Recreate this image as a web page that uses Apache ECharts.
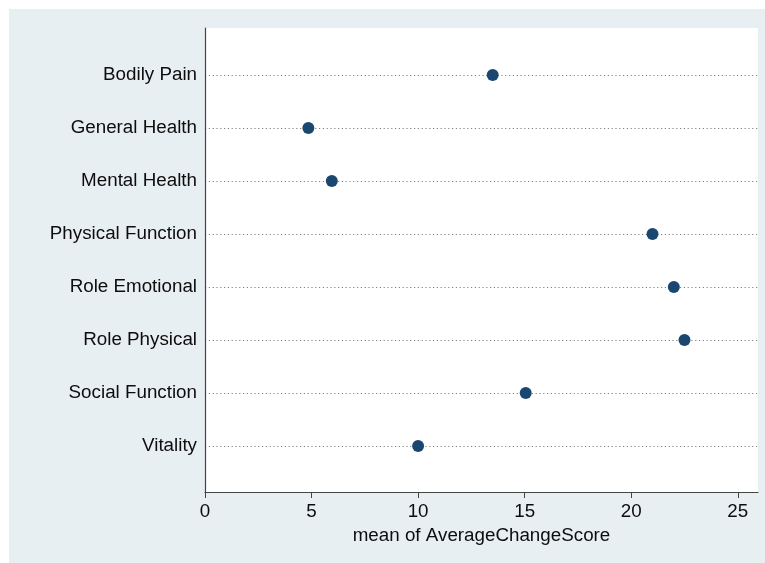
<!DOCTYPE html>
<html>
<head>
<meta charset="utf-8">
<script src="https://cdn.jsdelivr.net/npm/echarts@6/dist/echarts.min.js"></script>
<style>
  html, body { margin: 0; padding: 0; background: #ffffff; }
  #chart { position: absolute; left: 9px; top: 9px; width: 756px; height: 554px; }
</style>
</head>
<body>
<div id="chart"></div>
<script>
// Mean change score per SF-36 domain
const domains = ['Bodily Pain', 'General Health', 'Mental Health', 'Physical Function',
                 'Role Emotional', 'Role Physical', 'Social Function', 'Vitality'];
const meanScores = [13.5, 4.85, 5.95, 21.0, 22.0, 22.5, 15.05, 10.0];
const xTicks = [0, 5, 10, 15, 20, 25];

const fontFamily = '"Liberation Sans", Arial, Helvetica, sans-serif';
const textColor = '#0d0d0d';
const chart = echarts.init(document.getElementById('chart'));

chart.setOption({
  backgroundColor: '#e8eff2',
  animation: false,
  grid: [
    // plot region frame (white panel + axis lines)
    { left: 196, right: 7, top: 19, bottom: 71, show: true, backgroundColor: '#ffffff', borderWidth: 0 },
    // inner region holding the category rows
    { left: 196, right: 7, top: 66, bottom: 117 }
  ],
  xAxis: [
    {
      gridIndex: 0, type: 'value', min: 0, max: 25.95, interval: 5,
      name: 'mean of AverageChangeScore', nameLocation: 'middle', nameGap: 34,
      nameTextStyle: { fontFamily, fontSize: 18.8, color: textColor },
      axisLine: { show: true, lineStyle: { color: '#444', width: 1.2 } },
      axisTick: { show: true, length: 6, customValues: xTicks, lineStyle: { color: '#444' } },
      axisLabel: {
        fontFamily, fontSize: 18.8, color: textColor, margin: 10,
        customValues: xTicks
      },
      splitLine: { show: false }
    },
    {
      gridIndex: 1, type: 'value', min: 0, max: 25.95, show: false
    }
  ],
  yAxis: [
    {
      gridIndex: 0, type: 'value', min: 0, max: 1,
      axisLine: { show: true, lineStyle: { color: '#444', width: 1.2 } },
      axisTick: { show: false }, axisLabel: { show: false }, splitLine: { show: false }
    },
    {
      gridIndex: 1, type: 'category', data: domains, inverse: true, boundaryGap: false,
      axisLine: { show: false }, axisTick: { show: false },
      axisLabel: { fontFamily, fontSize: 18.8, color: textColor, margin: 8, padding: [3, 0, 0, 0] },
      splitLine: { show: true, lineStyle: { color: '#808080', width: 1.2, type: [1.2, 2.6] } }
    }
  ],
  series: [{
    type: 'scatter',
    xAxisIndex: 1, yAxisIndex: 1,
    symbol: 'circle', symbolSize: 12,
    itemStyle: { color: '#1a476f', opacity: 1 },
    data: meanScores.map((v, i) => [v, domains[i]])
  }]
});
</script>
</body>
</html>
